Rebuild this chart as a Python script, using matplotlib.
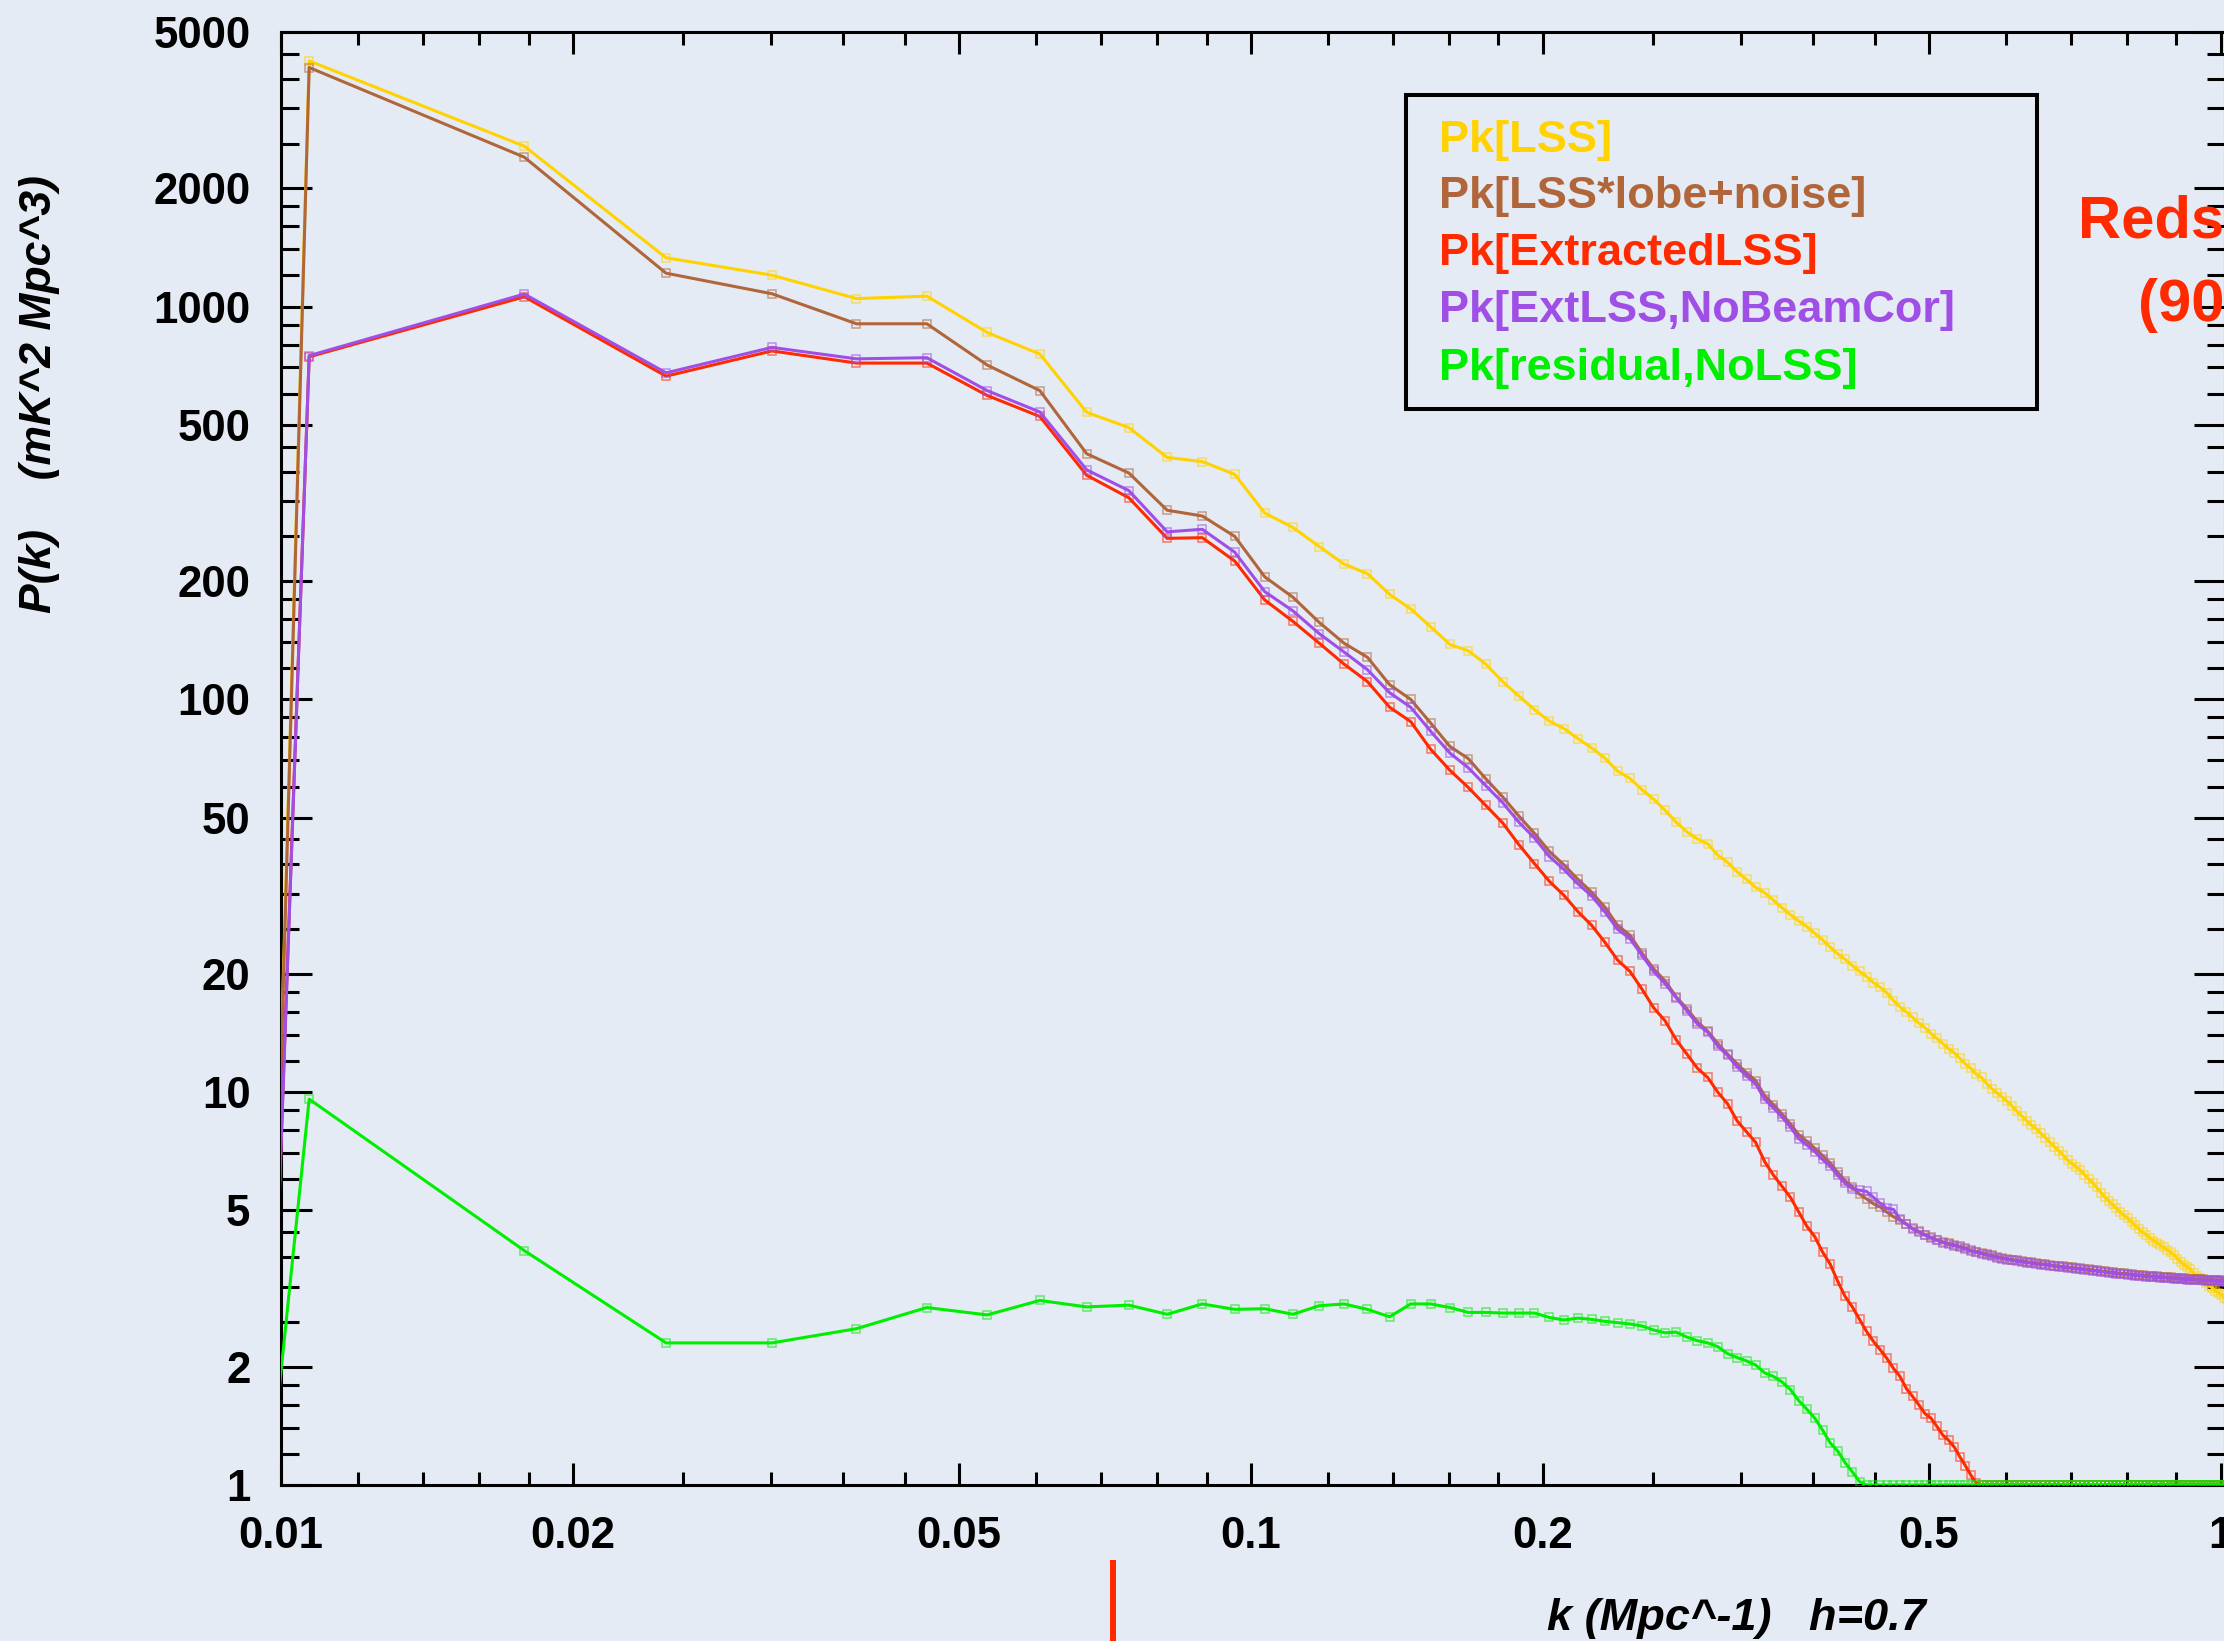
import numpy as np
import matplotlib
matplotlib.use("Agg")
import matplotlib.pyplot as plt
from matplotlib.colors import to_rgba
from matplotlib.lines import Line2D
from matplotlib.patches import Rectangle
from matplotlib.ticker import FixedLocator, FixedFormatter, NullFormatter

# ---------------------------------------------------------------- data ----
# k bins: centres of a uniform grid of width dk (Mpc^-1)
dk = 0.007128
n_bins = 143
k = (np.arange(n_bins) + 0.5) * dk

pk_lss = [
    1e-38, 4220, 2560, 1331, 1202, 1048, 1063, 859, 757, 538,
    492, 413, 403, 374, 298, 274, 245, 221, 209, 185,
    170, 153, 138, 133, 123, 111, 102, 94.2, 88.0, 84.3,
    79.4, 75.3, 70.9, 65.7, 62.9, 58.9, 55.7, 52.2, 48.7, 46.0,
    44.1, 42.9, 40.1, 38.5, 36.4, 34.8, 33.2, 32.2, 30.8, 29.5,
    28.3, 27.3, 26.4, 25.4, 24.4, 23.4, 22.5, 21.8, 21.0, 20.3,
    19.7, 19.0, 18.5, 17.9, 17.1, 16.5, 16.0, 15.5, 15.0, 14.6,
    14.1, 13.7, 13.3, 12.9, 12.6, 12.2, 11.8, 11.5, 11.1, 10.9,
    10.5, 10.2, 9.95, 9.72, 9.47, 9.21, 8.93, 8.69, 8.45, 8.23,
    8.08, 7.86, 7.66, 7.46, 7.27, 7.09, 6.91, 6.72, 6.58, 6.46,
    6.33, 6.17, 6.02, 5.88, 5.72, 5.55, 5.42, 5.28, 5.18, 5.06,
    4.94, 4.86, 4.78, 4.67, 4.58, 4.48, 4.40, 4.34, 4.26, 4.19,
    4.14, 4.08, 4.03, 3.97, 3.91, 3.86, 3.77, 3.70, 3.64, 3.59,
    3.54, 3.46, 3.40, 3.36, 3.30, 3.26, 3.22, 3.18, 3.12, 3.09,
    3.05, 3.00, 2.97,
]

pk_lss_lobe_noise = [
    6e-39, 4060, 2400, 1216, 1078, 904, 904, 710, 611, 422,
    377, 303, 293, 260, 205, 182, 157, 139, 128, 109,
    100, 87.0, 75.9, 70.7, 62.8, 56.5, 50.5, 45.6, 41.0, 37.9,
    34.8, 32.3, 29.6, 26.6, 25.1, 22.6, 20.6, 19.2, 17.5, 16.3,
    15.1, 14.3, 13.3, 12.5, 11.8, 11.2, 10.7, 9.8, 9.3, 8.8,
    8.3, 7.8, 7.5, 7.2, 6.9, 6.6, 6.25, 5.95, 5.75, 5.5,
    5.35, 5.2, 5.1, 4.95, 4.82, 4.72, 4.62, 4.50, 4.42, 4.34,
    4.27, 4.21, 4.16, 4.12, 4.09, 4.05, 4.01, 3.96, 3.93, 3.90,
    3.87, 3.84, 3.81, 3.79, 3.77, 3.75, 3.73, 3.72, 3.70, 3.69,
    3.67, 3.66, 3.65, 3.64, 3.62, 3.61, 3.60, 3.59, 3.58, 3.57,
    3.56, 3.55, 3.54, 3.53, 3.52, 3.51, 3.50, 3.49, 3.48, 3.47,
    3.46, 3.46, 3.45, 3.44, 3.43, 3.43, 3.42, 3.41, 3.41, 3.40,
    3.40, 3.39, 3.39, 3.38, 3.38, 3.37, 3.37, 3.36, 3.36, 3.35,
    3.35, 3.35, 3.34, 3.34, 3.34, 3.33, 3.33, 3.33, 3.32, 3.32,
    3.32, 3.31, 3.31,
]

# bins sitting on the lower edge of the plotted range are stored as 1.0
pk_extracted = [
    1e-30, 745, 1059, 665, 771, 718, 718, 594, 525, 372,
    326, 257, 258, 225, 179, 158, 139, 123, 111, 95.5,
    87.8, 74.6, 66.0, 59.7, 53.7, 48.5, 42.7, 38.2, 34.4, 31.7,
    28.8, 26.6, 24.1, 21.7, 20.3, 18.3, 16.4, 15.2, 13.6, 12.5,
    11.5, 10.9, 10.0, 9.34, 8.45, 7.93, 7.45, 6.66, 6.15, 5.76,
    5.40, 4.96, 4.56, 4.29, 3.92, 3.65, 3.30, 3.02, 2.84, 2.64,
    2.46, 2.32, 2.21, 2.10, 1.98, 1.89, 1.76, 1.68, 1.60, 1.52,
    1.48, 1.41, 1.34, 1.30, 1.25, 1.18, 1.12, 1.06, 1.01,
] + [1.0] * 64

pk_ext_nobeam = [
    5e-31, 750, 1076, 678, 787, 736, 741, 611, 539, 384,
    340, 267, 271, 237, 188, 168, 147, 132, 119, 104,
    95.5, 82.9, 73.0, 67.0, 60.3, 54.6, 48.7, 44.4, 39.8, 36.9,
    33.9, 31.6, 28.8, 26.0, 24.6, 22.3, 20.3, 18.9, 17.4, 16.1,
    14.9, 14.2, 13.1, 12.4, 11.6, 11.0, 10.5, 9.60, 9.12, 8.65,
    8.15, 7.62, 7.34, 7.06, 6.74, 6.48, 6.14, 5.86, 5.68, 5.63,
    5.59, 5.40, 5.21, 5.06, 5.03, 4.75, 4.61, 4.48, 4.40, 4.32,
    4.25, 4.20, 4.14, 4.10, 4.07, 4.03, 3.99, 3.94, 3.91, 3.88,
    3.85, 3.82, 3.79, 3.77, 3.75, 3.73, 3.71, 3.70, 3.68, 3.67,
    3.65, 3.64, 3.63, 3.62, 3.60, 3.59, 3.58, 3.57, 3.56, 3.55,
    3.54, 3.53, 3.52, 3.51, 3.50, 3.49, 3.48, 3.47, 3.46, 3.45,
    3.44, 3.44, 3.43, 3.42, 3.41, 3.41, 3.40, 3.39, 3.39, 3.38,
    3.38, 3.37, 3.37, 3.36, 3.36, 3.35, 3.35, 3.34, 3.34, 3.33,
    3.33, 3.33, 3.32, 3.32, 3.32, 3.31, 3.31, 3.31, 3.30, 3.30,
    3.30, 3.29, 3.29,
]

pk_residual = [
    4e-11, 9.6, 3.95, 2.30, 2.30, 2.50, 2.83, 2.71, 2.95, 2.84,
    2.87, 2.72, 2.89, 2.80, 2.81, 2.72, 2.86, 2.89, 2.80, 2.68,
    2.89, 2.89, 2.83, 2.75, 2.75, 2.74, 2.74, 2.74, 2.67, 2.63,
    2.66, 2.64, 2.61, 2.59, 2.57, 2.54, 2.48, 2.44, 2.45, 2.38,
    2.33, 2.30, 2.25, 2.16, 2.11, 2.07, 2.02, 1.93, 1.89, 1.83,
    1.75, 1.64, 1.56, 1.48, 1.38, 1.28, 1.22, 1.14, 1.08, 1.02,
] + [1.0] * 83

labels = ["Pk[LSS]", "Pk[LSS*lobe+noise]", "Pk[ExtractedLSS]",
          "Pk[ExtLSS,NoBeamCor]", "Pk[residual,NoLSS]"]
colors = ["#ffd200", "#b0663a", "#ff2a00", "#a04fe6", "#00ee00"]
series = [pk_lss, pk_lss_lobe_noise, pk_extracted, pk_ext_nobeam, pk_residual]

y_major = [1, 2, 5, 10, 20, 50, 100, 200, 500, 1000, 2000, 5000]
x_major = [0.01, 0.02, 0.05, 0.1, 0.2, 0.5, 1]
x_major_labels = ["0.01", "0.02", "0.05", "0.1", "0.2", "0.5", "1"]

# ------------------------------------------------------------- styling ----
W, H, DPI = 2224, 1641, 100
BG = "#e5ebf4"
plt.rcParams["font.family"] = ["Liberation Sans", "DejaVu Sans"]
plt.rcParams["font.weight"] = "bold"


def fx(px):
    return px / W


def fy(py):
    return 1.0 - py / H


fig = plt.figure(figsize=(W / DPI, H / DPI), dpi=DPI)
fig.patch.set_facecolor(BG)

ax_left, ax_right, ax_top, ax_bottom = 281, 2225, 32, 1485
ax = fig.add_axes([fx(ax_left), fy(ax_bottom),
                   (ax_right - ax_left) / W, (ax_bottom - ax_top) / H])
ax.set_facecolor("none")
ax.set_xscale("log")
ax.set_yscale("log")
ax.set_xlim(0.01, 1.01)
ax.set_ylim(1, 5000)

for vals, col, lab in zip(series, colors, labels):
    ax.plot(k, vals, color=col, lw=2.2, marker="s", ms=6.4,
            mfc="none", mec=to_rgba(col, 0.6), mew=1.1,
            label=lab, zorder=3)

# ticks: majors at 1-2-5, each interval split in five equal steps
def minor_positions(decades, majors_in_decade=(1, 2, 5, 10)):
    out = []
    for d in decades:
        for a, b in zip(majors_in_decade[:-1], majors_in_decade[1:]):
            step = (b - a) / 5.0
            out += [(a + step * j) * d for j in range(1, 5)]
    return out


ax.yaxis.set_major_locator(FixedLocator(y_major))
ax.yaxis.set_major_formatter(FixedFormatter([str(v) for v in y_major]))
ax.yaxis.set_minor_locator(FixedLocator(minor_positions([1, 10, 100, 1000])))
ax.yaxis.set_minor_formatter(NullFormatter())

ax.xaxis.set_major_locator(FixedLocator(x_major))
ax.xaxis.set_major_formatter(FixedFormatter(x_major_labels))
ax.xaxis.set_minor_locator(FixedLocator(minor_positions([0.01, 0.1])))
ax.xaxis.set_minor_formatter(NullFormatter())

ax.tick_params(axis="y", which="major", direction="in", length=22, width=2.2,
               left=True, right=True, labelsize=31.5, pad=22)
ax.tick_params(axis="y", which="minor", direction="in", length=13, width=2.2,
               left=True, right=True)
ax.tick_params(axis="x", which="major", direction="in", length=16, width=2.2,
               top=True, bottom=True, labelsize=31.5, pad=22)
ax.tick_params(axis="x", which="minor", direction="in", length=9.5, width=2.2,
               top=True, bottom=True)
for s in ax.spines.values():
    s.set_linewidth(2.2)

# axis titles
fig.text(fx(1547), fy(1630), "k (Mpc^-1)   h=0.7", fontsize=32.5,
         fontweight="bold", fontstyle="italic", ha="left", va="baseline")
fig.text(fx(40), fy(394), "P(k)    (mK^2 Mpc^3)", fontsize=32,
         fontweight="bold", fontstyle="italic", rotation=90,
         ha="center", va="center")

# legend panel
fig.add_artist(Rectangle((fx(1406), fy(409)), (2037 - 1406) / W, (409 - 95) / H,
                         transform=fig.transFigure, fill=False,
                         edgecolor="black", lw=2.9))
for lab, col, base in zip(labels, colors, [152, 208, 265, 322, 380]):
    fig.text(fx(1439), fy(base), lab, color=col, fontsize=32.5,
             fontweight="bold", ha="left", va="baseline")

# redshift annotation
RED = "#ff2a00"
fig.text(fx(2078), fy(238), "Redshift z=0.58", color=RED, fontsize=43,
         fontweight="bold", ha="left", va="baseline")
fig.text(fx(2138), fy(321), "(900 MHz)", color=RED, fontsize=43,
         fontweight="bold", ha="left", va="baseline")
fig.add_artist(Line2D([fx(1113), fx(1113)], [fy(1563), fy(1645)],
                      transform=fig.transFigure, color=RED, lw=4.3))

fig.savefig("out.png", dpi=DPI, facecolor=fig.get_facecolor())
